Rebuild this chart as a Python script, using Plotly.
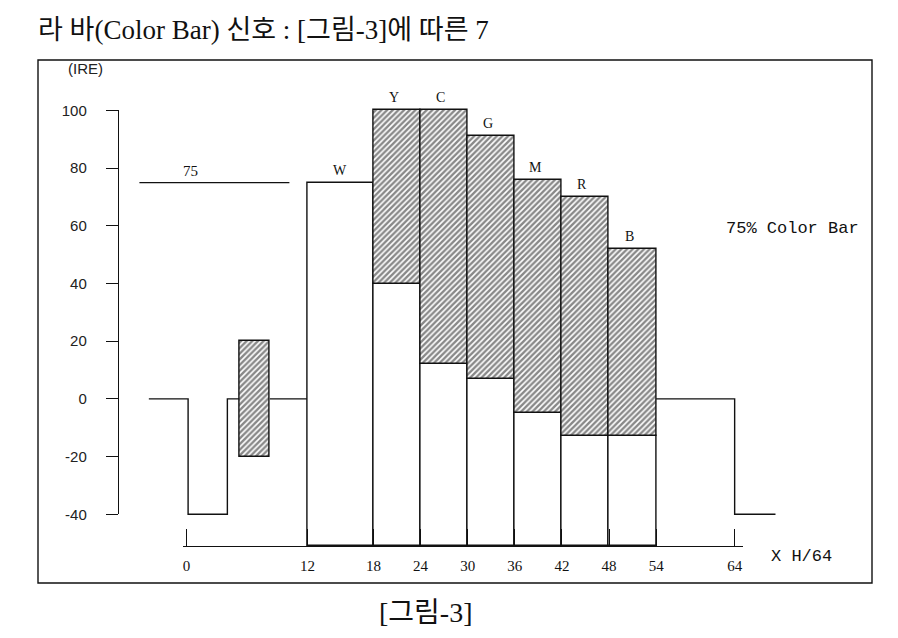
import plotly.graph_objects as go

W, H = 898, 638
OFF = 8  # page body margin of the html page

# ---------------- data ----------------
# horizontal axis is drawn not-to-scale: tick positions on the drawn axis and their labels
x_tick_pos = [-5.8, 9.6, 18, 24, 30, 36, 42, 48, 54, 64]
x_tick_text = ["0", "12", "18", "24", "30", "36", "42", "48", "54", "64"]
y_tick_vals = [-40, -20, 0, 20, 40, 60, 80, 100]
y_tick_text = ["-40", "-20", "0", "20", "40", "60", "80", "100"]

# colour bars (IRE)
bar_names = ["Y", "C", "G", "M", "R", "B"]
bar_left = [18, 24, 30, 36, 42, 48]
bar_right = [24, 30, 36, 42, 48, 54]
chroma_top = [100, 100, 91, 76, 70, 52]
chroma_bottom = [40, 12, 7, -5, -13, -13]

white_label = "W"
white_left, white_right, white_level = 9.6, 18, 75

# blanking / sync / burst
sync_x = [-10.6, -5.6, -5.6, -0.6, -0.6]
sync_y = [0, 0, -40, -40, 0]
porch_end = 9.6
burst_left, burst_right = 0.9, 4.8
burst_low, burst_high = -20, 20
tail_x = [54, 64, 64, 69.2]
tail_y = [0, 0, -40, -40]
ref_x = [-11.8, 7.3]
ref_level = 75
ref_label = "75"
axis_base = -51
x_axis_end = 65

# ---------------- layout geometry ----------------
x_range = [-14.4, 82]
y_range = [axis_base, 117.5]
ML, MR, MT, MB = 119 - OFF, 22 + OFF, 60 - OFF, 92 + OFF
PW, PH = W - ML - MR, H - MT - MB


def px(xp):
    # screen x (unrotated reference) -> paper
    return (xp - OFF - ML) / PW


def py(yp):
    return (H - MB - (yp - OFF)) / PH


xspan = x_range[1] - x_range[0]
yspan = y_range[1] - y_range[0]
x2_lo = x_tick_pos[0] - 0.5
x2_domain = [(x2_lo - x_range[0]) / xspan, (x_axis_end - x_range[0]) / xspan]
y2_domain = [(y_tick_vals[0] - y_range[0]) / yspan, (y_tick_vals[-1] - y_range[0]) / yspan]

LINE = dict(color="#111111", width=1.4)
HATCH = dict(shape="/", fgcolor="#111111", bgcolor="white", size=4, solidity=0.6)

fig = go.Figure()

centers = [(a + b) / 2 for a, b in zip(bar_left, bar_right)]
widths = [b - a for a, b in zip(bar_left, bar_right)]

# white bar W
fig.add_trace(go.Bar(
    x=[(white_left + white_right) / 2], width=[white_right - white_left],
    base=[axis_base], y=[white_level - axis_base],
    marker=dict(color="white", line=LINE), xaxis="x2", yaxis="y",
    showlegend=False, hoverinfo="skip"))

# luminance (white) parts
fig.add_trace(go.Bar(
    x=centers, width=widths, base=[axis_base] * len(centers),
    y=[b - axis_base for b in chroma_bottom],
    marker=dict(color="white", line=LINE), xaxis="x2", yaxis="y",
    showlegend=False, hoverinfo="skip"))

# chroma (hatched) parts
fig.add_trace(go.Bar(
    x=centers, width=widths, base=chroma_bottom,
    y=[t - b for t, b in zip(chroma_top, chroma_bottom)],
    marker=dict(color="white", line=LINE, pattern=HATCH), xaxis="x2", yaxis="y",
    showlegend=False, hoverinfo="skip"))

# colour burst
fig.add_trace(go.Bar(
    x=[(burst_left + burst_right) / 2], width=[burst_right - burst_left],
    base=[burst_low], y=[burst_high - burst_low],
    marker=dict(color="white", line=LINE, pattern=HATCH), xaxis="x2", yaxis="y",
    showlegend=False, hoverinfo="skip"))

# sync / blanking line (back porch split around the burst), tail
line_x = sync_x + [burst_left, None, burst_right, porch_end, None] + tail_x
line_y = sync_y + [sync_y[-1], None, sync_y[-1], sync_y[-1], None] + tail_y
fig.add_trace(go.Scatter(x=line_x, y=line_y, mode="lines", line=LINE,
                         xaxis="x", yaxis="y", showlegend=False, hoverinfo="skip"))

# 75 IRE reference line
fig.add_trace(go.Scatter(x=ref_x, y=[ref_level] * len(ref_x), mode="lines", line=LINE,
                         xaxis="x", yaxis="y2", showlegend=False, hoverinfo="skip"))

SERIF = "Liberation Serif, Noto Sans CJK KR, serif"
SANS = "Liberation Sans, Arial, sans-serif"
MONO = "Liberation Mono, Courier New, monospace"

ann = []
for n, c, t in zip(bar_names, centers, chroma_top):
    ann.append(dict(x=c - 0.4, y=t, xref="x", yref="y", text=n, showarrow=False,
                    xanchor="center", yanchor="bottom", yshift=3,
                    font=dict(family=SERIF, size=14, color="#111")))
ann.append(dict(x=(white_left + white_right) / 2, y=white_level, xref="x", yref="y",
                text=white_label, showarrow=False, xanchor="center", yanchor="bottom", yshift=3,
                font=dict(family=SERIF, size=14, color="#111")))
ann.append(dict(x=sum(ref_x) / 2 - 3, y=ref_level, xref="x", yref="y2", text=ref_label,
                showarrow=False, xanchor="center", yanchor="bottom", yshift=2,
                font=dict(family=SERIF, size=15, color="#111")))
ann.append(dict(x=71.4, y=59, xref="x", yref="y", text="75% Color Bar", showarrow=False,
                xanchor="center", yanchor="middle",
                font=dict(family=MONO, size=17, color="#111")))
ann.append(dict(x=px(801), y=py(556), xref="paper", yref="paper", text="X H/64",
                showarrow=False, xanchor="center", yanchor="middle",
                font=dict(family=MONO, size=17, color="#111")))
ann.append(dict(x=px(85), y=py(69), xref="paper", yref="paper", text="(IRE)",
                showarrow=False, xanchor="center", yanchor="middle",
                font=dict(family=SANS, size=15, color="#222")))
ann.append(dict(x=px(36), y=py(30), xref="paper", yref="paper", xanchor="left", yanchor="middle",
                text="라 바(Color Bar) 신호 : [그림-3]에 따른 7", showarrow=False,
                font=dict(family=SERIF, size=27, color="#111")))
ann.append(dict(x=px(426), y=py(612), xref="paper", yref="paper", text="[그림-3]",
                showarrow=False, xanchor="center", yanchor="middle",
                font=dict(family=SERIF, size=28, color="#111")))

frame = dict(type="rect", xref="paper", yref="paper",
             x0=px(38), x1=px(872), y0=py(583), y1=py(60),
             line=dict(color="#111", width=1.4), fillcolor="rgba(0,0,0,0)", layer="below")

fig.update_layout(
    width=W, height=H,
    margin=dict(l=ML, r=MR, t=MT, b=MB),
    paper_bgcolor="white", plot_bgcolor="rgba(0,0,0,0)",
    barmode="overlay", bargap=0,
    showlegend=False,
    xaxis=dict(range=x_range, visible=False, domain=[0, 1]),
    yaxis=dict(range=y_range, visible=False, domain=[0, 1], anchor="x"),
    xaxis2=dict(range=[x2_lo, x_axis_end], domain=x2_domain, anchor="y",
                showline=True, linecolor="#111", linewidth=1.4,
                showgrid=False, zeroline=False, layer="above traces",
                tickmode="array", tickvals=x_tick_pos, ticktext=x_tick_text,
                ticks="inside", ticklen=17, tickwidth=1.2, tickcolor="#111",
                ticklabelstandoff=6,
                tickfont=dict(family=SERIF, size=15, color="#111")),
    yaxis2=dict(range=[y_tick_vals[0], y_tick_vals[-1]], domain=y2_domain, anchor="x",
                showline=True, linecolor="#111", linewidth=1.4,
                showgrid=False, zeroline=False,
                tickmode="array", tickvals=y_tick_vals, ticktext=y_tick_text,
                ticks="outside", ticklen=12, tickwidth=1, tickcolor="#111",
                ticklabelstandoff=16,
                tickfont=dict(family=SANS, size=15, color="#222")),
    annotations=ann,
    shapes=[frame],
)

fig.write_html("out.html")
